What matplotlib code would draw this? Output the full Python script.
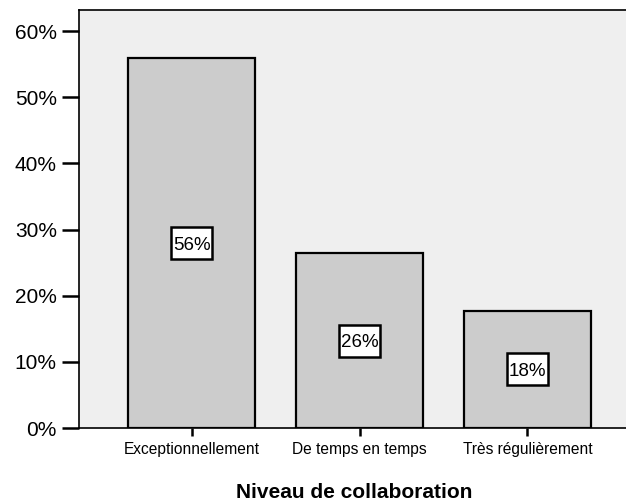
import matplotlib
matplotlib.use("Agg")
import matplotlib.pyplot as plt
from matplotlib.patches import Rectangle
from matplotlib.transforms import ScaledTranslation

categories = ["Exceptionnellement", "De temps en temps", "Très régulièrement"]
values = [55.9, 26.4, 17.7]
labels = ["56%", "26%", "18%"]
yticks = [0, 10, 20, 30, 40, 50, 60]
ytick_labels = ["0%", "10%", "20%", "30%", "40%", "50%", "60%"]

plt.rcParams['font.family'] = ['Liberation Sans', 'DejaVu Sans']

W, H = 626, 501
fig = plt.figure(figsize=(W/100, H/100), dpi=100)
fig.patch.set_facecolor("white")
# axes in pixel coordinates
left_px, right_px, top_px, bottom_px = 79, 640, 10, 428
ax = fig.add_axes([left_px/W, 1 - bottom_px/H, (right_px-left_px)/W, (bottom_px-top_px)/H])
ax.set_facecolor("#efefef")

x = list(range(len(categories)))
ax.bar(x, values, width=0.755, color="#cccccc", edgecolor="black", linewidth=1.6, zorder=2)
for xi, v, lab in zip(x, values, labels):
    trans = fig.dpi_scale_trans + ScaledTranslation(xi, v/2, ax.transData)
    ax.add_patch(Rectangle((-0.205, -0.16), 0.41, 0.32, transform=trans,
                           facecolor="white", edgecolor="black", linewidth=1.8, zorder=3))
    ax.text(0, -0.065, lab, ha="center", va="baseline", fontsize=13.5, zorder=4,
            transform=trans)

ax.set_xlim(-0.67, 2.67)
ax.set_ylim(0, 63.2)
ax.set_yticks(yticks)
ax.set_yticklabels(ytick_labels, fontsize=15)
ax.set_xticks(x)
ax.set_xticklabels(categories, fontsize=11.2)
ax.tick_params(axis="y", length=12, width=1.8, pad=4)
ax.tick_params(axis="x", length=5.8, width=1.8, pad=4)
for s in ["left", "bottom", "top"]:
    ax.spines[s].set_linewidth(1.2)
ax.spines["right"].set_visible(False)
fig.text(354/W, 1 - 498/H, "Niveau de collaboration", ha="center", va="baseline",
         fontsize=15, fontweight="bold")

fig.savefig("out.png", dpi=100)
